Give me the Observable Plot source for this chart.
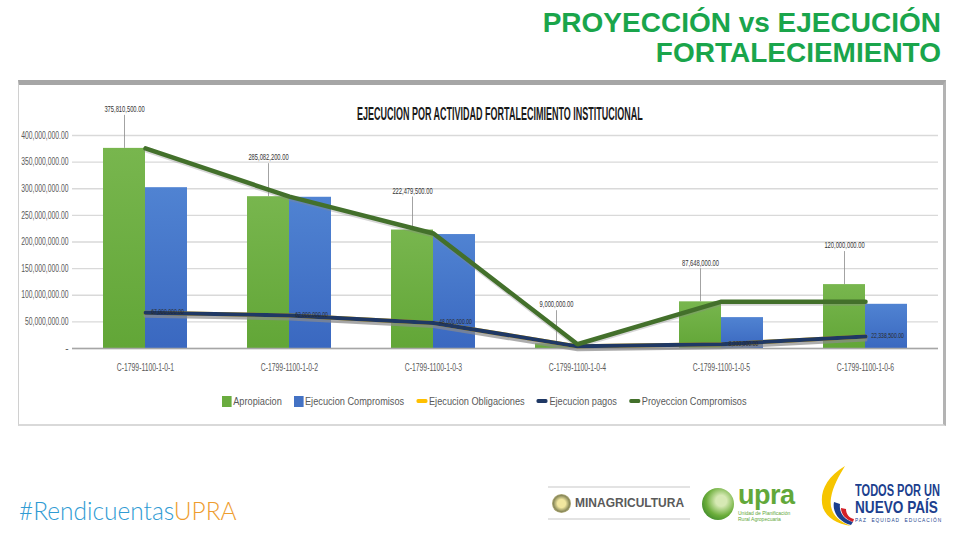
<!DOCTYPE html>
<html>
<head>
<meta charset="utf-8">
<script src="https://cdn.jsdelivr.net/npm/d3@7"></script>
<script src="https://cdn.jsdelivr.net/npm/@observablehq/plot@0.6"></script>
<style>
  body { margin:0; width:960px; height:540px; position:relative; overflow:hidden; background:#fff; font-family:"Liberation Sans", Arial, sans-serif; }
  #title { position:absolute; right:19px; top:8px; text-align:right; font-weight:bold; font-size:28px; line-height:30px; color:#1aa54b; white-space:nowrap; }
  #frame { position:absolute; left:18px; top:80px; width:924px; height:339px; border-top:5px solid #a6a6a6; border-right:3px solid #b3b3b3; border-left:1px solid #d0d0d0; border-bottom:2px solid #d9d9d9; }
  #ctitle { position:absolute; left:200px; width:600px; top:104px; text-align:center; }
  #ctitle span { display:inline-block; font-weight:bold; font-size:18px; color:#1a1a1a; transform:scaleX(0.5); transform-origin:center; white-space:nowrap; }
  #chart { position:absolute; left:18px; top:100px; }
  #legend { position:absolute; left:222px; top:395px; display:flex; align-items:center; gap:15px; font-size:11.5px; color:#595959; white-space:nowrap; transform:scaleX(0.8); transform-origin:left center; }
  #legend .it { display:flex; align-items:center; gap:2px; }
  #legend .sq { width:12px; height:11px; display:inline-block; }
  #legend .ln { width:14px; height:4px; display:inline-block; border-radius:2px; }
  #hash { position:absolute; left:19px; top:496px; font-family:Lato, sans-serif; font-weight:300; font-size:24.5px; color:#2f9bd3; white-space:nowrap; }
  #hash b { font-weight:300; color:#ee9d2f; }
  #mina { position:absolute; left:548px; top:486px; width:142px; height:30px; border-top:2px solid #e3e3e3; border-bottom:2px solid #e3e3e3; display:flex; align-items:center; gap:4px; }
  #mina .em { width:19px; height:19px; border-radius:50%; background:radial-gradient(circle,#f2e7a0 30%,#8a8a5a 60%,#c9c090 75%); margin-left:4px; }
  #mina .tx { font-weight:bold; font-size:12px; color:#5a5a5a; }
  #upra { position:absolute; left:700px; top:480px; width:95px; height:45px; }
  #upra .ci { position:absolute; left:2px; top:8px; width:32px; height:32px; border-radius:50%; background:radial-gradient(circle at 60% 40%,#d6e9b4 20%,#6cae3b 55%,#3f8a2b 80%); }
  #upra .w { position:absolute; left:38px; top:0px; font-weight:bold; font-size:27px; color:#62a83a; letter-spacing:-0.5px; }
  #upra .s { position:absolute; left:38px; top:30px; font-size:5px; line-height:6px; color:#62a83a; white-space:nowrap; }
  #todos { position:absolute; left:815px; top:464px; width:145px; height:64px; }
  #todos .t1, #todos .t2, #todos .t3 { position:absolute; left:40px; font-weight:bold; color:#1c3f8e; white-space:nowrap; transform-origin:left top; line-height:1; }
  #todos .t1 { top:19px; font-size:16px; transform:scaleX(0.69); }
  #todos .t2 { top:35px; font-size:17px; transform:scaleX(0.8); }
  #todos .t3 { top:53px; font-size:6px; font-weight:normal; letter-spacing:1.2px; transform:scaleX(0.8); }
</style>
</head>
<body>
<div id="title">PROYECCIÓN vs EJECUCIÓN<br>FORTALECIEMIENTO</div>
<div id="frame"></div>
<div id="ctitle"><span>EJECUCION POR ACTIVIDAD FORTALECIMIENTO INSTITUCIONAL</span></div>
<div id="chart"></div>
<div id="legend">
  <div class="it"><span class="sq" style="background:#6aac3f"></span>Apropiacion</div>
  <div class="it"><span class="sq" style="background:#4472c4"></span>Ejecucion Compromisos</div>
  <div class="it"><span class="ln" style="background:#ffc000"></span>Ejecucion Obligaciones</div>
  <div class="it"><span class="ln" style="background:#1f3864"></span>Ejecucion pagos</div>
  <div class="it"><span class="ln" style="background:#43702b"></span>Proyeccion Compromisos</div>
</div>
<div id="hash">#Rendicuentas<b>UPRA</b></div>
<div id="mina"><div class="em"></div><div class="tx">MINAGRICULTURA</div></div>
<div id="upra"><div class="ci"></div><div class="w">upra</div><div class="s">Unidad de Planificación<br>Rural Agropecuaria</div></div>
<div id="todos">
  <svg width="40" height="64" style="position:absolute;left:0;top:0">
    <path d="M30 2 C10 14 4 30 8 44 C12 54 22 60 36 62 C20 56 14 46 16 34 C18 22 24 12 30 2Z" fill="#f6c500"/>
    <path d="M36 61 C24 58 17 48 19 38 L25 40 C24 48 28 55 38 58Z" fill="#1c3f8e"/>
    <path d="M38 58 C30 55 26 50 26 44 L31 45 C31 50 34 54 39 55Z" fill="#d32027"/>
  </svg>
  <div class="t1">TODOS POR UN</div>
  <div class="t2">NUEVO PAÍS</div>
  <div class="t3">PAZ &nbsp;EQUIDAD &nbsp;EDUCACIÓN</div>
</div>
<script>
// ---- data ----
const categories = ["C-1799-1100-1-0-1", "C-1799-1100-1-0-2", "C-1799-1100-1-0-3", "C-1799-1100-1-0-4", "C-1799-1100-1-0-5", "C-1799-1100-1-0-6"];
const apropiacion = [375810500, 285082200, 222479500, 9000000, 87648000, 120000000];
const compromisos = [302000000, 284000000, 214000000, 6000000, 58000000, 83000000];
const obligaciones = [67000000, 62000000, 48000000, 4000000, 8000000, 22338500];
const pagos = [67000000, 62000000, 48000000, 4000000, 8000000, 22338500];
const proyeccion = [375810500, 285082200, 216000000, 8000000, 88000000, 88000000];
const yTicks = [0, 50000000, 100000000, 150000000, 200000000, 250000000, 300000000, 350000000, 400000000];

const rows = categories.map((c, i) => ({
  cat: c, apropiacion: apropiacion[i], compromisos: compromisos[i],
  obligaciones: obligaciones[i], pagos: pagos[i], proyeccion: proyeccion[i]
}));

const fmt = d3.format(",.2f");

const chart = Plot.plot({
  width: 925,
  height: 285,
  marginLeft: 54,
  marginRight: 5,
  marginTop: 35,
  marginBottom: 37,
  style: { fontFamily: "'Liberation Sans', sans-serif", fontSize: "10px", color: "#595959", background: "transparent" },
  x: { domain: categories, paddingInner: 0.42, paddingOuter: 0.21, label: null, tickSize: 0, tickPadding: 15 },
  y: { domain: [0, 400000000], ticks: yTicks, label: null, tickSize: 0, tickPadding: 4,
       tickFormat: d => d === 0 ? "-" : fmt(d) },
  marks: [
    Plot.gridY(yTicks, { stroke: "#d9d9d9", strokeOpacity: 1, strokeWidth: 1.3 }),
    Plot.barY(rows, { x: "cat", y: "apropiacion", fill: "url(#gGreen)", insetRight: 42 }),
    Plot.barY(rows, { x: "cat", y: "compromisos", fill: "url(#gBlue)", insetLeft: 42 }),
    Plot.ruleY([0], { stroke: "#a6a6a6", strokeWidth: 1.5 }),
    // leader lines + labels for Apropiacion
    Plot.ruleX(rows, { x: "cat", y1: "apropiacion", y2: d => d.apropiacion + 62000000, dx: -21, stroke: "#8c8c8c", strokeWidth: 0.8 }),
    Plot.text(rows, { x: "cat", y: d => d.apropiacion + 62000000, text: d => fmt(d.apropiacion), dx: -21, dy: -6, fontSize: 8.5, fill: "#333333" }),
    // shadows
    Plot.line(rows, { x: "cat", y: "pagos", stroke: "#8a8a8a", strokeWidth: 4, strokeOpacity: 0.7, dy: 3 }),
    Plot.line(rows, { x: "cat", y: "proyeccion", stroke: "#8a8a8a", strokeWidth: 4, strokeOpacity: 0.35, dy: 2 }),
    Plot.line(rows, { x: "cat", y: "obligaciones", stroke: "#ffc000", strokeWidth: 4 }),
    Plot.line(rows, { x: "cat", y: "pagos", stroke: "#1f3864", strokeWidth: 4 }),
    Plot.line(rows, { x: "cat", y: "proyeccion", stroke: "#43702b", strokeWidth: 4.5 }),
    Plot.text(rows.filter(d => d.pagos > 5000000), { x: "cat", y: "pagos", text: d => fmt(d.pagos), dx: 22, dy: -1, fontSize: 7.5, fill: "#2b2b2b" })
  ]
});

// bar gradients (as in the reference's shaded bars)
const ns = "http://www.w3.org/2000/svg";
const defs = document.createElementNS(ns, "defs");
defs.innerHTML =
  '<linearGradient id="gGreen" x1="0" y1="0" x2="0" y2="1"><stop offset="0" stop-color="#78b64e"/><stop offset="1" stop-color="#62a637"/></linearGradient>' +
  '<linearGradient id="gBlue" x1="0" y1="0" x2="0" y2="1"><stop offset="0" stop-color="#5083d2"/><stop offset="1" stop-color="#3a68c0"/></linearGradient>';
chart.insertBefore(defs, chart.firstChild);
document.getElementById("chart").appendChild(chart);

// condense all chart text horizontally (the reference uses a narrow typeface)
chart.querySelectorAll("text").forEach(t => {
  const w = t.getComputedTextLength();
  if (w > 8) {
    t.setAttribute("textLength", (w * 0.68).toFixed(1));
    t.setAttribute("lengthAdjust", "spacingAndGlyphs");
  }
});
</script>
</body>
</html>
